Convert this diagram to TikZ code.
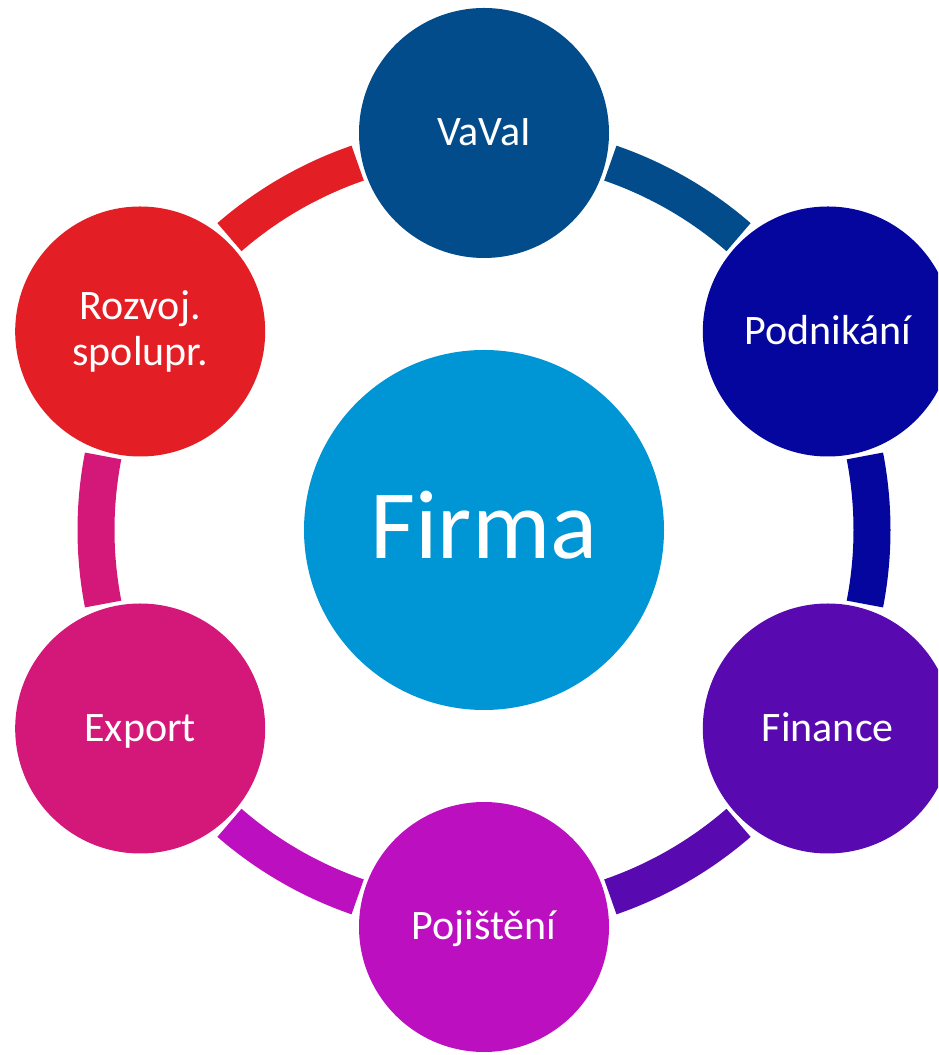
\documentclass[tikz,border=0pt]{standalone}
\usepackage{fontspec}
\setmainfont{Carlito}
\usetikzlibrary{calc}
\definecolor{cVaVaI}{RGB}{2,76,140}
\definecolor{cPodn}{RGB}{4,6,158}
\definecolor{cFin}{RGB}{88,10,176}
\definecolor{cPoj}{RGB}{188,16,192}
\definecolor{cExp}{RGB}{212,24,122}
\definecolor{cRoz}{RGB}{227,30,36}
\definecolor{cFirma}{RGB}{0,150,214}
\tikzset{
  outer/.style={circle, inner sep=0pt, minimum size=250pt},
  lbl/.style={text=white, font=\fontsize{42}{46}\selectfont, anchor=base, inner sep=0pt, align=center},
  ring/.style={line width=37pt, line cap=butt},
}
\begin{document}
\begin{tikzpicture}[x=1pt,y=1pt]
\useasboundingbox (0,0) rectangle (938,1055);
\clip (0,0) rectangle (938,1055);
\coordinate (C) at (484,525);
% ring segments
\draw[ring, cVaVaI] ($(C)+(71:388)$) arc[start angle=71, end angle=49, radius=388];
\draw[ring, cPodn] ($(C)+(11:388)$) arc[start angle=11, end angle=-11, radius=388];
\draw[ring, cFin] ($(C)+(-49:388)$) arc[start angle=-49, end angle=-71, radius=388];
\draw[ring, cPoj] ($(C)+(-109:388)$) arc[start angle=-109, end angle=-131, radius=388];
\draw[ring, cExp] ($(C)+(-169:388)$) arc[start angle=-169, end angle=-191, radius=388];
\draw[ring, cRoz] ($(C)+(131:388)$) arc[start angle=131, end angle=109, radius=388];
% circles
\node[circle, inner sep=0pt, minimum size=360pt, fill=cFirma] (firma) at (C) {};
\node[outer, fill=cVaVaI] (vavai) at ($(C)+(90:397)$) {};
\node[outer, fill=cPodn] (podn) at ($(C)+(30:397)$) {};
\node[outer, fill=cFin] (fin) at ($(C)+(-30:397)$) {};
\node[outer, fill=cPoj] (poj) at ($(C)+(-90:397)$) {};
\node[outer, fill=cExp] (exp) at ($(C)+(-150:397)$) {};
\node[outer, fill=cRoz] (roz) at ($(C)+(150:397)$) {};
% labels
\node[text=white, font=\fontsize{98}{110}\selectfont, anchor=base, inner sep=0pt] (tfirma) at ($(firma.center)+(0,-29)$) {Firma};
\node[lbl] (tvavai) at ($(vavai.center)+(0,-13)$) {VaVaI};
\node[lbl] (tpodn) at ($(podn.center)+(0,-13)$) {Podnikání};
\node[lbl] (tfin) at ($(fin.center)+(0,-13)$) {Finance};
\node[lbl] (tpoj) at ($(poj.center)+(0,-13)$) {Pojištění};
\node[lbl] (texp) at ($(exp.center)+(0,-13)$) {Export};
\node[lbl] (troz) at ($(roz.center)+(0,-34)$) {Rozvoj.\\spolupr.};
\end{tikzpicture}
\end{document}
